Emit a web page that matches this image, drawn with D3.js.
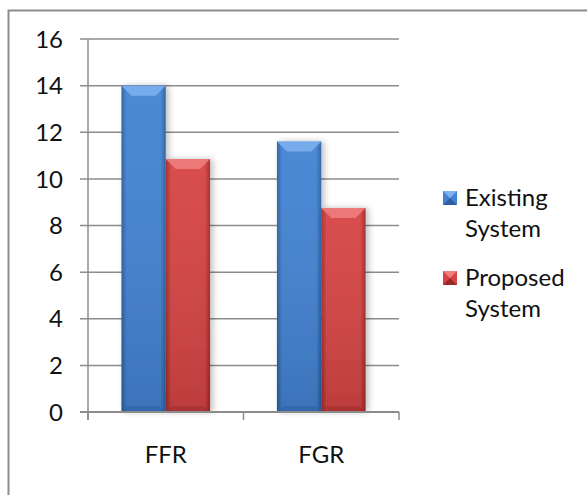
<!DOCTYPE html>
<html>
<head>
<meta charset="utf-8">
<script src="https://cdn.jsdelivr.net/npm/d3@7"></script>
<style>
  html, body { margin: 0; padding: 0; background: #fff; }
  svg { display: block; font-family: Lato, "Open Sans", sans-serif; }
</style>
</head>
<body>
<svg id="chart" width="587" height="495"></svg>
<script>
const categories = ["FFR", "FGR"];
const seriesNames = ["Existing System", "Proposed System"];
const existing = [14, 11.6];
const proposed = [10.85, 8.75];
const yTicks = [0, 2, 4, 6, 8, 10, 12, 14, 16];

const svg = d3.select("#chart");
const plot = { left: 88, right: 399, top: 39, bottom: 412 };

// outer frame (runs off the right and bottom edges)
svg.append("rect").attr("x", 8.5).attr("y", 10.5).attr("width", 600).attr("height", 500)
   .attr("fill", "none").attr("stroke", "#8c8c8c").attr("stroke-width", 2);

const x0 = d3.scaleBand().domain(categories).range([plot.left, plot.right]).paddingInner(0.43).paddingOuter(0.215);
const x1 = d3.scaleBand().domain(seriesNames).range([0, x0.bandwidth()]);
const y = d3.scaleLinear().domain([0, 16]).range([plot.bottom, plot.top]);

const colors = {
  "Existing System": { mid: "#4383d3", dark: "#2b5f9f", top: "#7eb3f0" },
  "Proposed System": { mid: "#d64444", dark: "#9c2a2a", top: "#f08080" }
};

const defs = svg.append("defs");
seriesNames.forEach((s, i) => {
  const c = colors[s];
  const g = defs.append("linearGradient").attr("id", `bar-grad-${i}`).attr("x1", 0).attr("x2", 1).attr("y1", 0).attr("y2", 0);
  g.append("stop").attr("offset", "0%").attr("stop-color", c.dark);
  g.append("stop").attr("offset", "12%").attr("stop-color", c.mid);
  g.append("stop").attr("offset", "88%").attr("stop-color", c.mid);
  g.append("stop").attr("offset", "100%").attr("stop-color", c.dark);
  const v = defs.append("linearGradient").attr("id", `bar-vgrad-${i}`).attr("x1", 0).attr("x2", 0).attr("y1", 0).attr("y2", 1);
  v.append("stop").attr("offset", "0%").attr("stop-color", "#fff").attr("stop-opacity", 0.05);
  v.append("stop").attr("offset", "100%").attr("stop-color", "#000").attr("stop-opacity", 0.12);
});
const shadow = defs.append("filter").attr("id", "shadow").attr("x", "-30%").attr("y", "-10%").attr("width", "160%").attr("height", "120%");
shadow.append("feGaussianBlur").attr("in", "SourceAlpha").attr("stdDeviation", 3);
shadow.append("feOffset").attr("dx", 3).attr("dy", 0).attr("result", "b");
shadow.append("feComponentTransfer").append("feFuncA").attr("type", "linear").attr("slope", 0.25);
const merge = shadow.append("feMerge");
merge.append("feMergeNode");
merge.append("feMergeNode").attr("in", "SourceGraphic");

// gridlines
svg.append("g").selectAll("line").data(yTicks.filter(d => d > 0)).join("line")
   .attr("x1", plot.left - 8).attr("x2", plot.right).attr("y1", d => y(d)).attr("y2", d => y(d))
   .attr("stroke", "#8c8c8c").attr("stroke-width", 1.5);

// tick labels
svg.append("g").selectAll("text").data(yTicks).join("text")
   .attr("x", 63).attr("y", d => y(d)).attr("dy", "0.36em").attr("text-anchor", "end")
   .attr("font-size", 24).attr("fill", "#111").text(d => d);

// bars
const rows = categories.map((c, i) => ({ cat: c, vals: [existing[i], proposed[i]] }));
const groups = svg.append("g").selectAll("g").data(rows).join("g")
   .attr("transform", d => `translate(${x0(d.cat)},0)`);

groups.each(function(d) {
  const g = d3.select(this);
  d.vals.forEach((v, i) => {
    const s = seriesNames[i];
    const bx = x1(s), bw = x1.bandwidth(), by = y(v), bh = y(0) - y(v);
    const bar = g.append("g").attr("filter", "url(#shadow)");
    bar.append("rect").attr("x", bx).attr("y", by).attr("width", bw).attr("height", bh).attr("fill", `url(#bar-grad-${i})`);
    bar.append("rect").attr("x", bx).attr("y", by).attr("width", bw).attr("height", bh).attr("fill", `url(#bar-vgrad-${i})`);
    const bev = 10;
    g.append("path").attr("d", `M${bx},${by}L${bx + bw},${by}L${bx + bw - bev},${by + bev}L${bx + bev},${by + bev}Z`)
     .attr("fill", colors[s].top).attr("opacity", 0.85);
    g.append("path").attr("d", `M${bx},${by + bh}L${bx + bw},${by + bh}L${bx + bw - 6},${by + bh - 6}L${bx + 6},${by + bh - 6}Z`)
     .attr("fill", colors[s].dark).attr("opacity", 0.5);
  });
});

// axes lines
svg.append("line").attr("x1", plot.left).attr("x2", plot.left).attr("y1", plot.top).attr("y2", plot.bottom + 8)
   .attr("stroke", "#8c8c8c").attr("stroke-width", 1.5);
svg.append("line").attr("x1", plot.left - 8).attr("x2", plot.right).attr("y1", plot.bottom).attr("y2", plot.bottom)
   .attr("stroke", "#8c8c8c").attr("stroke-width", 2);
const catEdges = [plot.left, (x0(categories[0]) + x0.bandwidth() + x0(categories[1])) / 2, plot.right];
svg.append("g").selectAll("line").data(catEdges).join("line")
   .attr("x1", d => d).attr("x2", d => d).attr("y1", plot.bottom).attr("y2", plot.bottom + 8)
   .attr("stroke", "#8c8c8c").attr("stroke-width", 1.5);

// category labels
svg.append("g").selectAll("text").data(categories).join("text")
   .attr("x", d => x0(d) + x0.bandwidth() / 2).attr("y", 463).attr("text-anchor", "middle")
   .attr("font-size", 24).attr("fill", "#111").text(d => d);

// legend
const legend = svg.append("g");
const legendY = [206, 286];
seriesNames.forEach((s, i) => {
  const c = colors[s];
  const mx = 443, my = legendY[i] - 15, ms = 14;
  legend.append("rect").attr("x", mx).attr("y", my).attr("width", ms).attr("height", ms).attr("fill", c.mid);
  legend.append("path").attr("d", `M${mx},${my}L${mx + ms},${my}L${mx + ms / 2},${my + ms / 2}Z`).attr("fill", c.top);
  legend.append("path").attr("d", `M${mx},${my + ms}L${mx + ms},${my + ms}L${mx + ms / 2},${my + ms / 2}Z`).attr("fill", c.dark);
  const words = s.split(" ");
  const t = legend.append("text").attr("x", 465).attr("y", legendY[i]).attr("font-size", 24).attr("fill", "#111");
  words.forEach((w, j) => t.append("tspan").attr("x", 465).attr("dy", j === 0 ? 0 : 31).text(w));
});
</script>
</body>
</html>
